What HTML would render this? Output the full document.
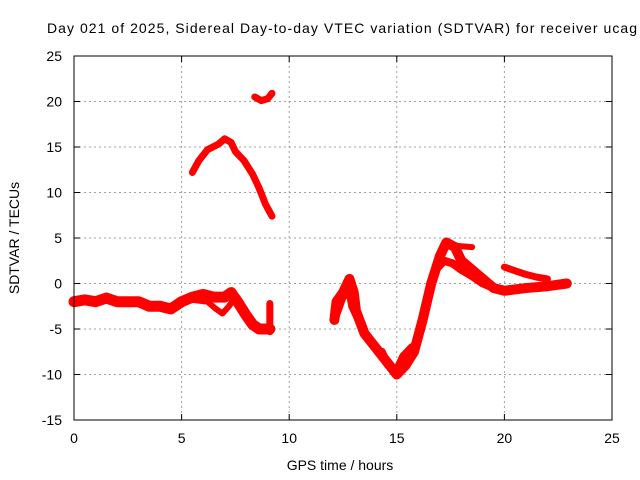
<!DOCTYPE html>
<html><head><meta charset="utf-8"><style>
body{margin:0;background:#fff;}
svg{display:block;font-family:"Liberation Sans",sans-serif;}
</style></head><body>
<svg id="chart" width="640" height="480">
<rect width="640" height="480" fill="#fff"/>
<text x="47" y="33" font-size="14" textLength="590" lengthAdjust="spacing">Day 021 of 2025, Sidereal Day-to-day VTEC variation (SDTVAR) for receiver ucag</text>
<g id="grid"></g><g id="series"></g><g id="axes"></g>
<text x="340" y="470" font-size="14" text-anchor="middle">GPS time / hours</text>
<text transform="translate(19,238) rotate(-90)" font-size="14" text-anchor="middle">SDTVAR / TECUs</text>
</svg>
<script>
const xTicks=[0,5,10,15,20,25];
const yTicks=[-15,-10,-5,0,5,10,15,20,25];
const trackAx=[0,0.5,1,1.5,2,2.5,3,3.5,4,4.5,5,5.5,6,6.5,7,7.3,7.6,8,8.3,8.6,9.1];
const trackAy=[-2,-1.8,-2,-1.6,-2,-2,-2,-2.5,-2.5,-2.8,-2,-1.5,-1.2,-1.5,-1.5,-1,-2,-3.5,-4.5,-5,-5];
const trackA2x=[5.5,6.2,6.6,6.9,7.2,7.5,7.8];
const trackA2y=[-1.8,-2,-2.8,-3.3,-2.5,-1.5,-2.5];
const spikeX=[9.1,9.1];
const spikeY=[-2.2,-5.3];
const trackBx=[5.5,5.8,6.2,6.7,7.0,7.3,7.5,7.9,8.3,8.6,8.9,9.2];
const trackBy=[12.2,13.5,14.7,15.3,15.9,15.5,14.5,13.5,12,10.5,8.7,7.4];
const trackCx=[8.4,8.7,9.0,9.2];
const trackCy=[20.5,20.1,20.3,20.9];
const trackDx=[12.1,12.2,12.5,12.8,13,13.1,13.5,14,14.5,15,15.4,15.8,16.2,16.6,17,17.3,17.7,18,18.5,19,19.5,20,21,22,22.9];
const trackDy=[-4,-2,-1,0.5,-1,-3,-5.5,-7,-8.5,-10,-9,-7.5,-4,0,3,4.5,4,2.5,1.5,0.5,-0.5,-0.8,-0.5,-0.3,0];
const trackD2x=[16.8,17.2,17.6,18,18.5,19,19.5];
const trackD2y=[1.5,2.5,2.2,1.5,0.8,0,-0.5];
const trackD3x=[17.4,18.5];
const trackD3y=[4.2,4];
const trackD4x=[20,20.5,21,21.5,22];
const trackD4y=[1.8,1.4,1,0.7,0.5];
const trackD5x=[14.3,14.6,15,15.3,15.7];
const trackD5y=[-7.5,-9,-9.5,-8,-7];
const trackD6x=[12.2,12.5,12.8,12.9,13.2];
const trackD6y=[-3.5,-1.5,-1,-2.5,-4];

const X0=74,X1=612,Y0=420,Y1=56;
const sx=v=>X0+(v-0)/25*(X1-X0);
const sy=v=>Y0-(v+15)/40*(Y0-Y1);
const NS='http://www.w3.org/2000/svg';
function mk(tag,attrs,parent){const e=document.createElementNS(NS,tag);for(const k in attrs)e.setAttribute(k,attrs[k]);parent.appendChild(e);return e;}
const grid=document.getElementById('grid'),axes=document.getElementById('axes'),series=document.getElementById('series');
xTicks.forEach(t=>{
  if(t>0&&t<25){const l=mk('line',{x1:sx(t),x2:sx(t),y1:Y1,y2:Y0,stroke:'#a0a0a0','stroke-dasharray':'2,3'},grid);
  
  }
  mk('line',{x1:sx(t),x2:sx(t),y1:Y0,y2:Y0-6,stroke:'#000'},axes);
  mk('line',{x1:sx(t),x2:sx(t),y1:Y1,y2:Y1+6,stroke:'#000'},axes);
  const tx=mk('text',{x:sx(t),y:Y0+23,'font-size':14,'text-anchor':'middle'},axes);tx.textContent=t;
  
  
});
yTicks.forEach(t=>{
  if(t>-15&&t<25){const l=mk('line',{x1:X0,x2:X1,y1:sy(t),y2:sy(t),stroke:'#a0a0a0','stroke-dasharray':'2,3'},grid);
  
  }
  mk('line',{x1:X0,x2:X0+6,y1:sy(t),y2:sy(t),stroke:'#000'},axes);
  mk('line',{x1:X1,x2:X1-6,y1:sy(t),y2:sy(t),stroke:'#000'},axes);
  const tx=mk('text',{x:X0-12,y:sy(t)+5,'font-size':14,'text-anchor':'end'},axes);tx.textContent=t;
  
  
});
const frame=mk('rect',{x:X0,y:Y1,width:X1-X0,height:Y0-Y1,fill:'none',stroke:'#000'},axes);


function track(xs,ys,name,w){
  const pts=xs.map((x,i)=>sx(x)+','+sy(ys[i])).join(' ');
  const p=mk('polyline',{points:pts,fill:'none',stroke:'#ff0000','stroke-width':w,'stroke-linejoin':'round','stroke-linecap':'round'},series);
  
  
}
track(trackAx,trackAy,'series-track-a',11);
track(trackA2x,trackA2y,'series-track-a2',6);
track(spikeX,spikeY,'series-spike',7);
track(trackBx,trackBy,'series-track-b',7);
track(trackCx,trackCy,'series-track-c',7);
track(trackDx,trackDy,'series-track-d',10);
track(trackD2x,trackD2y,'series-track-d2',8);
track(trackD3x,trackD3y,'series-track-d3',6);
track(trackD4x,trackD4y,'series-track-d4',7);
track(trackD5x,trackD5y,'series-track-d5',8);
track(trackD6x,trackD6y,'series-track-d6',7);
</script>
</body></html>
